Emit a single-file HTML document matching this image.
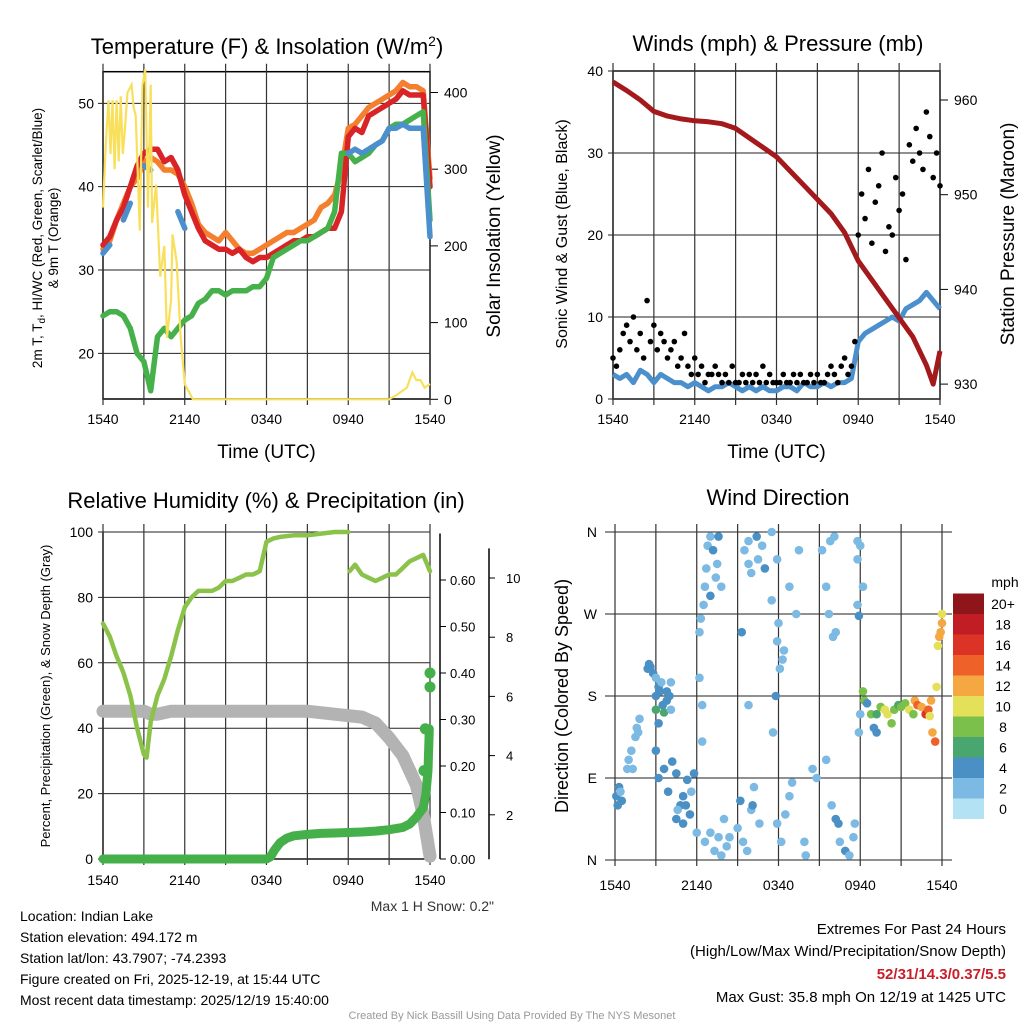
<!DOCTYPE html>
<html><head><meta charset="utf-8">
<style>
html,body{margin:0;padding:0;background:#fff;}
svg{display:block;font-family:"Liberation Sans",sans-serif;}
</style></head>
<body>
<svg id="c" width="1024" height="1024" viewBox="0 0 1024 1024" xmlns="http://www.w3.org/2000/svg">
<g id="g1"></g>
<g id="g2"></g>
<g id="g3"></g>
<g id="g4"></g>
<g font-size="14" fill="#000">
<text x="20" y="921">Location: Indian Lake</text>
<text x="20" y="942">Station elevation: 494.172 m</text>
<text x="20" y="963">Station lat/lon: 43.7907; -74.2393</text>
<text x="20" y="984">Figure created on Fri, 2025-12-19, at 15:44 UTC</text>
<text x="20" y="1005">Most recent data timestamp: 2025/12/19 15:40:00</text>
</g>
<g font-size="15" text-anchor="end">
<text x="1006" y="934">Extremes For Past 24 Hours</text>
<text x="1006" y="956">(High/Low/Max Wind/Precipitation/Snow Depth)</text>
<text x="1006" y="979" fill="#c8202a" font-weight="bold">52/31/14.3/0.37/5.5</text>
<text x="1006" y="1002">Max Gust: 35.8 mph On 12/19 at 1425 UTC</text>
</g>
<text x="512" y="1019" font-size="11" fill="#999" text-anchor="middle">Created By Nick Bassill Using Data Provided By The NYS Mesonet</text>
<text x="494" y="911" font-size="14" fill="#333" text-anchor="end">Max 1 H Snow: 0.2"</text>
</svg>
<script>
// ---- Temperature panel data (half-hour steps, hours since 1540) ----
const tHalf = Array.from({length:49},(_,i)=>i*0.5);
const tempRed = [33,34,36,37.5,40,42.5,44,44.5,44.5,43,43.5,42,39,37,35,33.5,33,32.5,32.5,32,32.5,31.5,31,31.5,31.5,32,32.5,33,33.5,33.5,34,34,34.5,35,35,37,46,47,46.5,48.5,49,49.5,50,50.5,51.5,51,51,51,40];
const tempOrange = [32.5,33.5,36,38,40,41,43,43.5,43,42,42,41.5,40,38,35.5,34.5,34,33.5,34.5,33.5,32.5,32,32,32.5,33,33.5,34,34.5,34.5,35,35.5,36,37.5,38,39,42,47,47.5,48.5,49.5,50,50.5,51,51.5,52.5,52,52,51.5,41];
const tempGreen = [24.5,25,25,24.5,23,20,19,15.5,22,23,22,23,24,24.5,26,26.5,27.5,27.5,27,27.5,27.5,27.5,28,28,29,31.5,32,32.5,33,33.5,33.5,34,34.5,35,37,44,44,43,43.5,44,45,45.5,47,47.5,47.5,48,48.5,49,36];
const tempBlue = [32,33,null,36,38,null,42.5,42,null,41,null,37,35,null,null,32,null,null,null,null,null,null,null,null,null,null,null,null,null,null,null,null,null,32.8,null,null,44,44.5,44,44.5,45,45.5,47,47,47.5,47,47,47,34];
const solarT = [0,0.2,0.4,0.55,0.7,0.85,1.0,1.15,1.3,1.45,1.6,1.8,2.1,2.25,2.4,2.7,2.9,3.1,3.3,3.5,3.6,3.9,4.2,4.5,4.7,5.0,5.1,5.4,5.7,6.0,6.6,10,15,21,21.5,22.3,22.7,23,23.3,23.6,24];
const solarV = [250,330,390,320,390,300,390,310,395,320,350,400,410,380,370,220,410,430,250,410,230,280,160,200,80,130,215,180,80,20,0,0,0,0,5,15,35,25,25,15,20];
// ---- Wind panel data ----
const sonicWind = [3,2.5,3,2,3.5,3,2,3,2.5,2,2,1.5,2,1.5,1,1.5,1.5,2,1.5,1,1.5,1,1.5,1,1,1.5,1.5,1,2,1.5,1.5,2,1.5,2,2,2.5,7,8,8.5,9,9.5,10,9.5,11,11.5,12,13,12,11];
const gusts = [5,4,6,8,9,7,10,6,8, 5,12,7,9,6,8,7,5, 6,7,4,5,8,4,3,5, 3,4,2,3,3,4,3,2, 3,2,4,2,2,3,2,3, 2,3,2,4,2,3,2,2, 2,3,2,2,3,2,3,2, 2,3,2,3,2,2,3,4, 3,2,4,5,3,4,7,20, 25,22,28,19,24,26,30,18, 21,20,27,23,25,17,31,29, 33,30,28,35,32,27,30,26];
const pressT = [0,1,2,3,4,5,6,7,8,9,10,11,12,13,14,15,16,17,18,19,20,21,22,23,23.5,24];
const pressV = [961.9,961,960,958.8,958.3,958,957.8,957.7,957.5,957,956,955,954,952.5,951,949.5,948,946,943,941,939,937,935,932,930,933.5];
// ---- RH panel data ----
const rhT = [0,0.5,1,1.5,2,2.5,3,3.2,3.5,4,4.5,5,5.5,6,6.5,7,7.5,8,8.5,9,9.5,10,10.5,11,11.5,12,12.5,13,14,15,16,17,18];
const rhV = [72,68,62,57,50,40,32,31,42,50,55,62,70,77,80,82,82,82,83,85,85,86,87,87,88,97,98,98.5,99,99,99.5,100,100];
const rhT2 = [18.1,18.5,19,19.5,20,20.5,21,21.5,22,22.5,23,23.5,24];
const rhV2 = [88,90,87,86,85,86,87,87,89,91,92,93,88];
const snowT = [0,3,3.5,4,5,15,17,19,19.5,20,21,22,22.5,23,23.5,24];
const snowV = [5.5,5.5,5.4,5.4,5.5,5.5,5.4,5.3,5.2,5.1,4.6,4.0,3.5,3.0,2.0,0.6];
const precipT = [0,12,12.3,12.6,13,13.5,14,15,16,17,18,19,20,21,22,22.5,23,23.5,23.7,23.85,23.95,24,24];
const precipV = [0,0,0.005,0.02,0.035,0.045,0.05,0.053,0.055,0.056,0.057,0.058,0.06,0.063,0.068,0.075,0.09,0.11,0.14,0.19,0.28,0.37,0.40];
// ---- Wind direction data ----
const dirPts = [[0.1,70,3],[0.3,80,3],[0.2,60,3],[0.4,75,2],[0.5,65,3],[0.9,100,2],[1.0,110,2],[1.2,120,2],[1.5,135,2],[1.6,145,2],[1.8,155,2],[1.7,140,2],[1.3,100,2],[2.4,210,4],[2.5,215,4],[2.6,212,4],[2.8,205,3],[3.0,200,2],[3.2,190,3],[3.4,195,2],[3.0,180,3],[3.3,185,3],[3.5,170,4],[3.2,150,3],[3.0,165,5],[3.8,175,3],[4.0,180,3],[4.1,195,2],[3.6,162,6],[3.8,185,4],[4.1,165,2],[3.0,120,4],[3.6,100,4],[3.2,90,3],[4.2,108,4],[4.5,95,4],[3.9,75,4],[4.8,60,3],[5.0,70,3],[4.6,55,2],[5.5,50,3],[4.5,45,3],[5.0,40,3],[5.2,60,3],[5.6,75,2],[6.0,30,2],[5.8,95,3],[5.3,88,4],[6.2,250,2],[6.3,265,2],[6.5,280,1],[6.6,300,2],[6.7,320,2],[6.8,345,1],[7.0,355,1],[7.2,340,3],[7.0,290,3],[7.4,310,2],[7.5,325,2],[7.6,355,3],[7.8,300,1],[6.4,170,2],[6.2,200,1],[6.4,130,1],[6.6,20,2],[7.0,30,1],[7.3,10,1],[7.6,25,1],[7.8,5,2],[8.0,45,1],[8.2,15,2],[8.4,25,1],[9.5,340,1],[9.8,350,1],[9.8,325,2],[10.0,315,2],[10.4,355,3],[10.5,330,1],[10.8,345,1],[11.0,320,3],[9.3,250,3],[9.8,170,1],[10.2,80,2],[10.6,40,1],[9.0,35,1],[9.4,20,2],[9.7,10,2],[10.0,55,1],[9.2,65,3],[10.1,60,3],[11.5,360,1],[11.9,330,1],[11.5,285,1],[12.0,260,2],[11.9,240,1],[12.1,210,1],[11.8,180,3],[11.6,140,1],[12.3,220,1],[12.4,230,1],[12.8,300,1],[11.9,40,1],[12.2,20,2],[12.5,50,2],[12.8,70,1],[13.0,85,1],[13.5,340,1],[13.3,270,1],[14.0,5,1],[13.9,20,1],[14.5,100,1],[14.8,90,1],[15.2,340,1],[15.5,300,1],[15.7,270,1],[16.0,245,1],[16.2,250,2],[15.8,350,1],[16.1,355,2],[15.5,110,1],[15.9,60,2],[16.2,45,3],[16.4,40,3],[16.5,20,1],[16.9,10,3],[17.2,5,1],[17.5,25,1],[17.6,40,1],[17.8,330,2],[18.0,345,2],[17.8,350,1],[18.2,300,2],[17.8,280,2],[17.9,268,4],[17.9,140,1],[18.0,160,2],[18.2,185,8],[18.3,175,7],[18.5,172,4],[18.8,160,7],[19.0,145,4],[19.2,140,4],[19.2,160,6],[19.5,168,8],[19.8,165,10],[20.0,160,10],[20.3,150,8],[20.5,165,8],[20.8,170,6],[21.0,168,7],[21.3,172,8],[21.6,165,10],[21.9,160,8],[22.0,175,12],[22.2,170,13],[22.5,168,12],[22.8,160,16],[23.0,165,14],[23.1,158,10],[23.3,140,12],[23.5,130,13],[23.2,175,12],[23.6,190,10],[23.7,235,10],[23.8,245,12],[23.9,250,12],[24.0,260,12],[24.0,270,10]];
const speedColors = ["#b3e2f5","#7cb9e3","#4a90c4","#4aa66f","#7ac04a","#e5e05a","#f5a742","#ee6128","#dc3327","#c01d24","#8e1519"];
const speedLabels = ["0","2","4","6","8","10","12","14","16","18","20+"];
const timeLabels = ["1540","2140","0340","0940","1540"];

const NS="http://www.w3.org/2000/svg";
function mk(parent,tag,attrs,text){const e=document.createElementNS(NS,tag);for(const k in attrs)e.setAttribute(k,attrs[k]);if(text!==undefined)e.textContent=text;parent.appendChild(e);return e;}
function pathFrom(ts,vs,fx,fy){let d="",pen=false;for(let i=0;i<ts.length;i++){if(vs[i]===null||vs[i]===undefined){pen=false;continue;}d+=(pen?"L":"M")+fx(ts[i]).toFixed(1)+","+fy(vs[i]).toFixed(1);pen=true;}return d;}

function timeAxis(g,x0,x1,yTop,yBot,labelY,titleY){
  const fx=t=>x0+(x1-x0)*t/24;
  for(let k=0;k<=8;k++){const x=fx(k*3);
    const l=mk(g,"line",{x1:x,x2:x,y1:yTop,y2:yBot+6,stroke:"#333","stroke-width":1.2});
    
    
  }
  timeLabels.forEach((s,i)=>{const t=mk(g,"text",{x:fx(i*6),y:labelY,"font-size":14,"text-anchor":"middle"},s);
    
    });
  if(titleY){const tt=mk(g,"text",{x:(x0+x1)/2,y:titleY,"font-size":19,"text-anchor":"middle"},"Time (UTC)");
    
    }
  return fx;
}

// ===== Panel 1 =====
(function(){
 const g=document.getElementById("g1");
 const X0=103,X1=430,T=71.7,B=399;
 const fy=v=>270-(v-30)*8.333;
 const fs=v=>399.3-v*0.767;
 mk(g,"rect",{x:X0,y:T,width:X1-X0,height:B-T,fill:"none",stroke:"#000","stroke-width":1.5});
 [20,30,40,50].forEach(v=>{const l=mk(g,"line",{x1:X0-5,x2:X1,y1:fy(v),y2:fy(v),stroke:"#222","stroke-width":1});
  
  const t=mk(g,"text",{x:X0-9,y:fy(v)+5,"font-size":14,"text-anchor":"end"},v);
  });
 [0,100,200,300,400].forEach(v=>{mk(g,"line",{x1:X1,x2:X1+8,y1:fs(v),y2:fs(v),stroke:"#000"});
  const t=mk(g,"text",{x:X1+14,y:fs(v)+5,"font-size":14},v);
  });
 const fx=timeAxis(g,X0,X1,T-8,B,424,458);
 const lines=[[tempOrange,"#f47f2e","temp-9m-line"],[tempRed,"#d82427","temp-2m-line"],[tempGreen,"#46b14a","dewpoint-line"],[tempBlue,"#4b8fcc","heat-index-line"]];
 lines.forEach(([arr,col,nm])=>{const p=mk(g,"path",{d:pathFrom(tHalf,arr,fx,fy),fill:"none",stroke:col,"stroke-width":5.5,"stroke-linejoin":"round","stroke-linecap":"round"});
  });
 const sp=mk(g,"path",{d:pathFrom(solarT,solarV,fx,fs),fill:"none",stroke:"#f9e05c","stroke-width":2.2});
 
 const ti=mk(g,"text",{x:267,y:54,"font-size":22,"text-anchor":"middle"});
 ti.innerHTML='Temperature (F) &amp; Insolation (W/m<tspan dy="-8" font-size="14">2</tspan><tspan dy="8">)</tspan>';
 
 const y1=mk(g,"text",{transform:"translate(42,238) rotate(-90)","font-size":13.5,"text-anchor":"middle"});
 y1.innerHTML='2m T, T<tspan dy="3" font-size="10">d</tspan><tspan dy="-3">, HI/WC (Red, Green, Scarlet/Blue)</tspan>';
 
 const y2=mk(g,"text",{transform:"translate(58,238) rotate(-90)","font-size":13.5,"text-anchor":"middle"},"& 9m T (Orange)");
 
 const y3=mk(g,"text",{transform:"translate(500,236) rotate(-90)","font-size":19,"text-anchor":"middle"},"Solar Insolation (Yellow)");
 
})();

// ===== Panel 2 =====
(function(){
 const g=document.getElementById("g2");
 const X0=613,X1=940,T=71,B=399;
 const fy=v=>399-v*8.2;
 const fp=v=>100+(960-v)*9.47;
 mk(g,"rect",{x:X0,y:T,width:X1-X0,height:B-T,fill:"none",stroke:"#000","stroke-width":1.5});
 [0,10,20,30,40].forEach(v=>{const l=mk(g,"line",{x1:X0-5,x2:X1,y1:fy(v),y2:fy(v),stroke:"#222","stroke-width":1});
  
  const t=mk(g,"text",{x:X0-10,y:fy(v)+5,"font-size":14,"text-anchor":"end"},v);
  });
 [930,940,950,960].forEach(v=>{mk(g,"line",{x1:X1,x2:X1+8,y1:fp(v),y2:fp(v),stroke:"#000"});
  const t=mk(g,"text",{x:X1+14,y:fp(v)+5,"font-size":14},v);
  });
 const fx=timeAxis(g,X0,X1,T-8,B,424,458);
 const sw=mk(g,"path",{d:pathFrom(tHalf,sonicWind,fx,fy),fill:"none",stroke:"#4b8fcc","stroke-width":5,"stroke-linejoin":"round"});
 
 gusts.forEach((v,i)=>{const c=mk(g,"circle",{cx:fx(i*0.25),cy:fy(v),r:2.8,fill:"#000"});
  });
 const pp=mk(g,"path",{d:pathFrom(pressT,pressV,fx,fp),fill:"none",stroke:"#a3191c","stroke-width":5,"stroke-linejoin":"round"});
 
 const ti=mk(g,"text",{x:778,y:51,"font-size":22,"text-anchor":"middle"},"Winds (mph) & Pressure (mb)");
 
 const y1=mk(g,"text",{transform:"translate(567,234) rotate(-90)","font-size":16,"text-anchor":"middle"},"Sonic Wind & Gust (Blue, Black)");
 
 const y2=mk(g,"text",{transform:"translate(1014,234) rotate(-90)","font-size":19,"text-anchor":"middle"},"Station Pressure (Maroon)");
 
})();

// ===== Panel 3 =====
(function(){
 const g=document.getElementById("g3");
 const X0=103,X1=430,T=532,B=859;
 const fy=v=>859-v*3.27;
 const fpr=v=>859-v*465;
 const fsn=v=>874-v*29.6;
 mk(g,"line",{x1:X0,x2:X0,y1:T,y2:B,stroke:"#000","stroke-width":1.5});
 mk(g,"line",{x1:X0,x2:X1,y1:B,y2:B,stroke:"#000","stroke-width":1.5});
 [0,20,40,60,80,100].forEach(v=>{const l=mk(g,"line",{x1:X0-5,x2:X1,y1:fy(v),y2:fy(v),stroke:"#222","stroke-width":1});
  
  const t=mk(g,"text",{x:X0-10,y:fy(v)+5,"font-size":14,"text-anchor":"end"},v);
  });
 mk(g,"line",{x1:440,x2:440,y1:fpr(0.7),y2:B,stroke:"#000","stroke-width":1.5});
 [0,0.1,0.2,0.3,0.4,0.5,0.6].forEach(v=>{mk(g,"line",{x1:440,x2:446,y1:fpr(v),y2:fpr(v),stroke:"#000"});
  const t=mk(g,"text",{x:450,y:fpr(v)+5,"font-size":13},v.toFixed(2));
  });
 mk(g,"line",{x1:489,x2:489,y1:fsn(11),y2:fsn(0.5),stroke:"#000","stroke-width":1.5});
 [2,4,6,8,10].forEach(v=>{mk(g,"line",{x1:489,x2:495,y1:fsn(v),y2:fsn(v),stroke:"#000"});
  const t=mk(g,"text",{x:506,y:fsn(v)+5,"font-size":13},v);
  });
 const fx=timeAxis(g,X0,X1,T-8,B,885,null);
 const sn=mk(g,"path",{d:pathFrom(snowT,snowV,fx,fsn),fill:"none",stroke:"#b3b3b3","stroke-width":13,"stroke-linejoin":"round","stroke-linecap":"round"});
 
 [[rhT,rhV],[rhT2,rhV2]].forEach(([ts,vs])=>{const p=mk(g,"path",{d:pathFrom(ts,vs,fx,fy),fill:"none",stroke:"#8bc34a","stroke-width":4.5,"stroke-linejoin":"round","stroke-linecap":"round"});
  });
 const pr=mk(g,"path",{d:pathFrom(precipT.slice(0,21),precipV.slice(0,21),fx,fpr),fill:"none",stroke:"#45b04a","stroke-width":9,"stroke-linejoin":"round","stroke-linecap":"round"});
 
 precipT.forEach((t,i)=>{if(i<19)return;const c=mk(g,"circle",{cx:fx(t)-(i>20?0:4),cy:fpr(precipV[i]),r:5.5,fill:"#45b04a"});
  });
 const ti=mk(g,"text",{x:266,y:508,"font-size":22,"text-anchor":"middle"},"Relative Humidity (%) & Precipitation (in)");
 
 const y1=mk(g,"text",{transform:"translate(50,696) rotate(-90)","font-size":13,"text-anchor":"middle"},"Percent, Precipitation (Green), & Snow Depth (Gray)");
 
})();

// ===== Panel 4 =====
(function(){
 const g=document.getElementById("g4");
 const X0=615,X1=942,T=532,B=860;
 const fy=d=>860-d*(328/360);
 [0,90,180,270,360].forEach((d,i)=>{const l=mk(g,"line",{x1:X0-10,x2:X1+10,y1:fy(d),y2:fy(d),stroke:"#222","stroke-width":1});
  
  const t=mk(g,"text",{x:X0-18,y:fy(d)+5,"font-size":14,"text-anchor":"end"},["N","E","S","W","N"][i]);
  });
 const fx=timeAxis(g,X0,X1,T-8,B,890,null);
 dirPts.forEach(p=>{const bin=Math.min(10,Math.floor(p[2]/2+0.5));
  const c=mk(g,"circle",{cx:fx(p[0]),cy:fy(p[1]),r:4.3,fill:speedColors[bin]});
  });
 speedColors.forEach((col,i)=>{const y=819-(i+1)*20.5;
  const r=mk(g,"rect",{x:953,y:y,width:31,height:20.5,fill:col});
  
  const t=mk(g,"text",{x:1003,y:y+15.5,"font-size":14,"text-anchor":"middle"},speedLabels[i]);
  });
 const u=mk(g,"text",{x:1005,y:587,"font-size":14,"text-anchor":"middle"},"mph");
 
 const ti=mk(g,"text",{x:778,y:505,"font-size":22,"text-anchor":"middle"},"Wind Direction");
 
 const y1=mk(g,"text",{transform:"translate(568,696) rotate(-90)","font-size":18,"text-anchor":"middle"},"Direction (Colored By Speed)");
 
})();
</script>
</body></html>
